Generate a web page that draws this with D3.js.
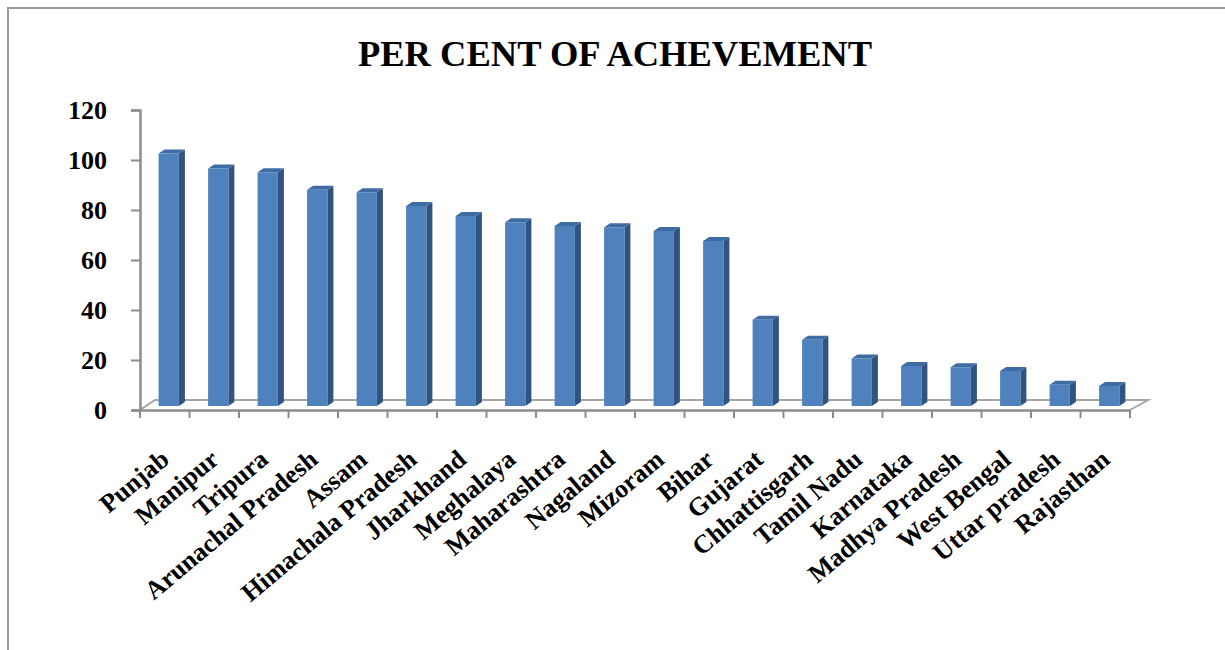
<!DOCTYPE html>
<html>
<head>
<meta charset="utf-8">
<title>Per cent of achievement</title>
<script src="https://cdnjs.cloudflare.com/ajax/libs/d3/7.8.5/d3.min.js"></script>
<style>
  * { margin: 0; padding: 0; }
  body { background: #fff; }
  text { font-family: "Liberation Serif", "Times New Roman", serif; font-weight: bold; fill: #000; }
</style>
</head>
<body>
<script>
// data
var states = ["Punjab", "Manipur", "Tripura", "Arunachal Pradesh", "Assam", "Himachala Pradesh",
  "Jharkhand", "Meghalaya", "Maharashtra", "Nagaland", "Mizoram", "Bihar", "Gujarat",
  "Chhattisgarh", "Tamil Nadu", "Karnataka", "Madhya Pradesh", "West Bengal", "Uttar pradesh", "Rajasthan"];
var achievement = [101, 95, 93.5, 86.5, 85.5, 80, 76, 73.5, 72, 71.5, 70, 66, 34.5, 26.5, 19, 16, 15.5, 14, 8.5, 8];
var yTicks = [0, 20, 40, 60, 80, 100, 120];

var W = 1225, H = 650;
var plotL = 140, plotR = 1130, plotT = 110, plotB = 410;
var depth = {x: 15, y: -10};   // floor depth offset
var barShift = {x: 4, y: -4};  // bars sit in the middle of the floor
var side = 6;                  // side face width

var svg = d3.select("body").append("svg")
    .attr("width", W)
    .attr("height", H);

// frame (only top and left edge visible)
svg.append("path")
    .attr("d", "M8,650 L8,8 L1225,8")
    .attr("fill", "none")
    .attr("stroke", "#9a9a9a")
    .attr("stroke-width", 2);

var x = d3.scaleBand().domain(states).range([plotL, plotR]).padding(0);
var y = d3.scaleLinear().domain([0, 120]).range([plotB, plotT]);

// floor
svg.append("path")
    .attr("d", "M" + plotL + "," + plotB + " L" + (plotL + depth.x) + "," + (plotB + depth.y) +
      " L" + (plotR + depth.x + 3) + "," + (plotB + depth.y) + " L" + plotR + "," + plotB)
    .attr("fill", "none")
    .attr("stroke", "#a6a6a6")
    .attr("stroke-width", 2);

// y axis
var yAxis = svg.append("g")
    .attr("transform", "translate(" + plotL + ",0)")
    .call(d3.axisLeft(y).tickValues(yTicks).tickSize(9).tickPadding(24));
yAxis.select(".domain").attr("stroke", "#8c8c8c").attr("stroke-width", 2.5);
yAxis.selectAll(".tick line").attr("stroke", "#8c8c8c").attr("stroke-width", 2);
yAxis.selectAll(".tick text").style("font-size", "26px").attr("fill", "#000");

// x axis (front edge of floor)
var xAxis = svg.append("g")
    .attr("transform", "translate(0," + plotB + ")")
    .call(d3.axisBottom(x).tickSize(0).tickFormat(""));
xAxis.select(".domain").attr("stroke", "#8c8c8c").attr("stroke-width", 2.5);
xAxis.selectAll(".tick").remove();

// category tick marks on the boundaries
svg.append("g").selectAll("line")
    .data(states.concat([null]))
    .join("line")
    .attr("x1", function(d, i) { return plotL + i * x.step(); })
    .attr("x2", function(d, i) { return plotL + i * x.step(); })
    .attr("y1", plotB)
    .attr("y2", plotB + 8)
    .attr("stroke", "#8c8c8c")
    .attr("stroke-width", 2);

// bars
var faceW = x.bandwidth() * 0.41;
var bars = svg.append("g").selectAll("g")
    .data(states)
    .join("g");

function fx(d) { return x(d) + x.bandwidth() / 2 - faceW / 2 + barShift.x; }
function val(i) { return achievement[i]; }

bars.append("path") // side face
    .attr("d", function(d, i) {
      var x1 = fx(d) + faceW, yt = y(val(i)) + barShift.y, yb = plotB + barShift.y;
      return "M" + x1 + "," + yt + " L" + (x1 + side) + "," + (yt - 4) +
        " L" + (x1 + side) + "," + (yb - 4) + " L" + x1 + "," + yb + "Z";
    })
    .attr("fill", "#30537f");

bars.append("path") // top face
    .attr("d", function(d, i) {
      var x0 = fx(d), yt = y(val(i)) + barShift.y;
      return "M" + x0 + "," + yt + " L" + (x0 + side) + "," + (yt - 4) +
        " L" + (x0 + faceW + side) + "," + (yt - 4) + " L" + (x0 + faceW) + "," + yt + "Z";
    })
    .attr("fill", "#3f6ba3");

bars.append("rect") // front face
    .attr("x", fx)
    .attr("y", function(d, i) { return y(val(i)) + barShift.y; })
    .attr("width", faceW)
    .attr("height", function(d, i) { return plotB - y(val(i)); })
    .attr("fill", "#4f81bd");

// category labels
svg.append("g").selectAll("text")
    .data(states)
    .join("text")
    .attr("transform", function(d) {
      return "translate(" + (x(d) + x.bandwidth() / 2 + 6) + "," + (plotB + 52) + ") rotate(-40)";
    })
    .attr("text-anchor", "end")
    .style("font-size", "26px")
    .text(function(d) { return d; });

// title
svg.append("text")
    .attr("x", 615)
    .attr("y", 66)
    .attr("text-anchor", "middle")
    .style("font-size", "36.5px")
    .text("PER CENT OF ACHEVEMENT");
</script>
</body>
</html>
